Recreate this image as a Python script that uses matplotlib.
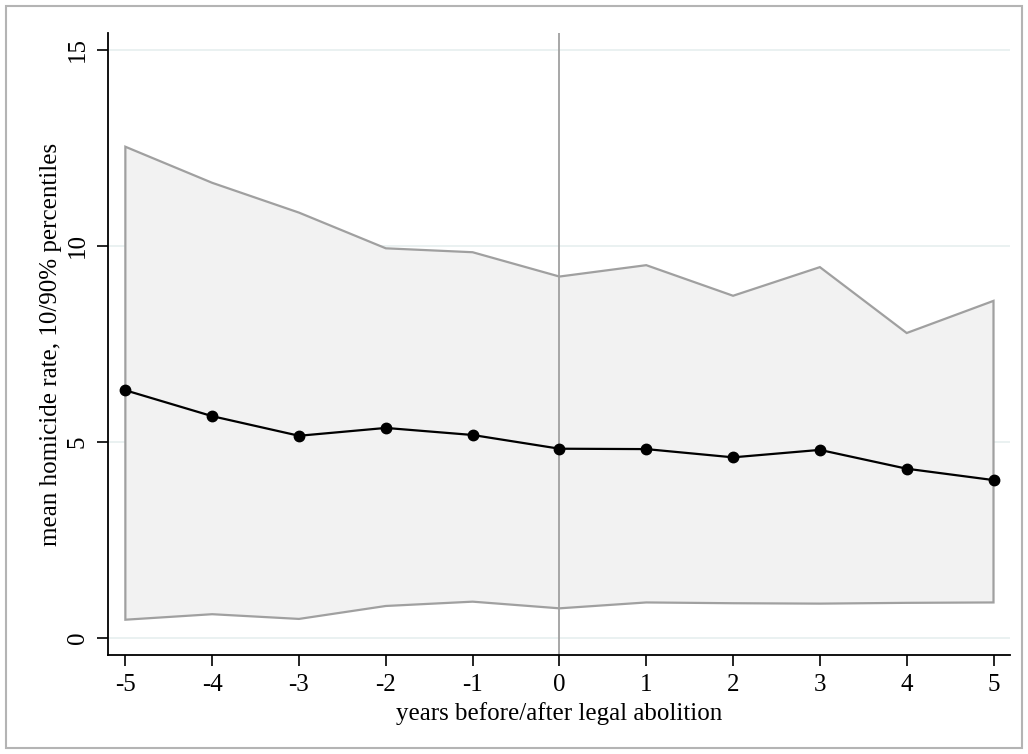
import matplotlib.pyplot as plt
from matplotlib.patches import Rectangle

plt.rcParams['font.family'] = ['Liberation Serif', 'DejaVu Serif']

# years relative to legal abolition
years = [-5, -4, -3, -2, -1, 0, 1, 2, 3, 4, 5]
# mean homicide rate and the 10th / 90th percentiles
mean_rate = [6.32, 5.66, 5.16, 5.36, 5.18, 4.83, 4.82, 4.61, 4.80, 4.32, 4.03]
p10 = [0.47, 0.61, 0.49, 0.82, 0.93, 0.76, 0.91, 0.89, 0.88, 0.90, 0.91]
p90 = [12.53, 11.61, 10.85, 9.94, 9.84, 9.22, 9.51, 8.73, 9.46, 7.78, 8.60]

y_ticks = [0, 5, 10, 15]

fig = plt.figure(figsize=(10.28, 7.54), dpi=100)
ax = fig.add_axes([108 / 1028, 1 - 655 / 754, (1010 - 108) / 1028, (655 - 33) / 754])

# outer frame around the whole graph
fig.patches.append(Rectangle((6 / 1028, 6 / 754), 1016 / 1028, 742 / 754,
                             transform=fig.transFigure, fill=False,
                             edgecolor='#b4b4b4', linewidth=1.5))

for t in y_ticks:
    ax.axhline(t, color='#e6efef', linewidth=1.2, zorder=0)

# percentile band as a closed polygon
band_x = years + years[::-1]
band_y = p90 + p10[::-1]
ax.fill(band_x, band_y, facecolor='#f2f2f2', edgecolor='#a0a0a0', linewidth=1.6, zorder=1)

ax.axvline(0, color='#a0a0a0', linewidth=1.3, zorder=2)

ax.plot(years, mean_rate, color='black', linewidth=1.6, marker='o', markersize=7.5, zorder=3)

ax.set_xlim(-5.2, 5.19)
ax.set_ylim(-0.43, 15.43)
ax.set_xticks(years)
ax.set_xticklabels([str(y) for y in years])
ax.set_yticks(y_ticks)
ax.set_yticklabels([str(t) for t in y_ticks], rotation=90, va='center')

for side in ['top', 'right']:
    ax.spines[side].set_visible(False)
for side in ['left', 'bottom']:
    ax.spines[side].set_linewidth(1.3)

ax.tick_params(axis='both', labelsize=18, length=8, width=1.2, direction='out', pad=6)
ax.set_xlabel('years before/after legal abolition', fontsize=18, labelpad=4)
ax.set_ylabel('mean homicide rate, 10/90% percentiles', fontsize=18, labelpad=3)

fig.savefig('out.png', dpi=100)
